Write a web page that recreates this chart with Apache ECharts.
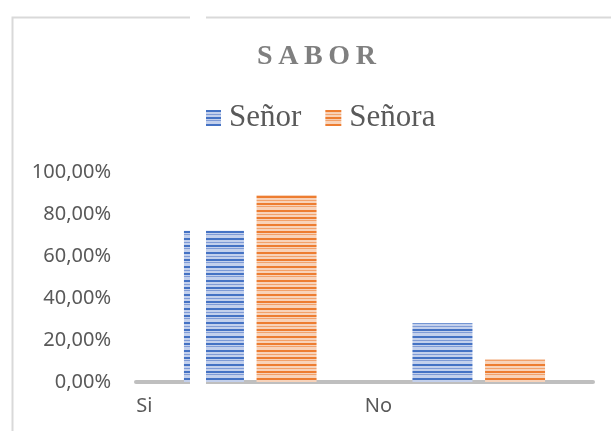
<!DOCTYPE html>
<html lang="es">
<head>
    <meta charset="UTF-8">
    <title>SABOR</title>
    <script src="https://cdn.jsdelivr.net/npm/echarts@6/dist/echarts.min.js"></script>
    <style>
        body { margin: 0; background: #fff; }
    </style>
</head>
<body>
    <div id="chart" style="width: 611px; height: 431px;"></div>
    <script type="text/javascript">
        const categories = ['Si', 'No'];
        const senor = [0.72, 0.28];
        const senora = [0.89, 0.11];

        // horizontal stripe fill like the Excel texture
        function stripes(dark, mid, light) {
            const rows = 'DDLLMLLDDLMLLL';
            const c = document.createElement('canvas');
            c.width = 4;
            c.height = rows.length;
            const ctx = c.getContext('2d');
            for (let i = 0; i < rows.length; i++) {
                ctx.fillStyle = rows[i] === 'D' ? dark : rows[i] === 'M' ? mid : light;
                ctx.fillRect(0, i, 4, 1);
            }
            return { image: c, repeat: 'repeat' };
        }

        const blue = stripes('#4472c4', '#7f9bd6', '#c3d0ec');
        const orange = stripes('#ed7d31', '#f2a26c', '#f8d3ba');

        const chart = echarts.init(document.getElementById('chart'), null, { renderer: 'canvas' });

        chart.setOption({
            animation: false,
            title: {
                text: 'S\u2009A\u2009B\u2009O\u2009R',
                left: 257,
                top: 43,
                padding: 0,
                textStyle: {
                    fontFamily: 'Liberation Serif',
                    fontWeight: 'bold',
                    fontSize: 28,
                    color: '#7f7f7f'
                }
            },
            legend: {
                left: 205,
                top: 102,
                padding: 0,
                icon: 'rect',
                itemWidth: 16,
                itemHeight: 16,
                itemGap: 24,
                textStyle: {
                    fontFamily: 'Liberation Serif',
                    fontSize: 31,
                    lineHeight: 32,
                    color: '#595959',
                    padding: [0, 0, 0, 3]
                },
                data: ['Señor', 'Señora']
            },
            grid: { left: 136, right: 18, top: 172, bottom: 49 },
            xAxis: {
                type: 'category',
                data: categories,
                axisLine: { lineStyle: { color: '#bfbfbf', width: 4 } },
                axisTick: { show: false },
                axisLabel: {
                    margin: 14,
                    formatter: v => '{a|' + v + '}',
                    rich: {
                        a: {
                            width: 228,
                            align: 'left',
                            fontFamily: 'Noto Sans',
                            fontSize: 20,
                            color: '#595959'
                        }
                    }
                }
            },
            yAxis: {
                type: 'value',
                min: 0,
                max: 1,
                interval: 0.2,
                axisLine: { show: false },
                axisTick: { show: false },
                splitLine: { show: false },
                axisLabel: {
                    margin: 25,
                    fontFamily: 'Noto Sans',
                    fontSize: 20,
                    color: '#595959',
                    formatter: v => (v * 100).toFixed(2).replace('.', ',') + '%'
                }
            },
            series: [
                {
                    name: 'Señor',
                    type: 'bar',
                    data: senor,
                    barWidth: 60,
                    barGap: '21%',
                    itemStyle: { color: blue }
                },
                {
                    name: 'Señora',
                    type: 'bar',
                    data: senora,
                    barWidth: 60,
                    itemStyle: { color: orange }
                }
            ],
            graphic: [
                {
                    type: 'rect',
                    silent: true,
                    z: 100,
                    shape: { x: 12.5, y: 17.5, width: 700, height: 500 },
                    style: { fill: null, stroke: '#d9d9d9', lineWidth: 2 }
                },
                {
                    type: 'rect',
                    silent: true,
                    z: 101,
                    shape: { x: 190, y: 0, width: 16, height: 431 },
                    style: { fill: '#ffffff' }
                }
            ]
        });
    </script>
</body>
</html>
